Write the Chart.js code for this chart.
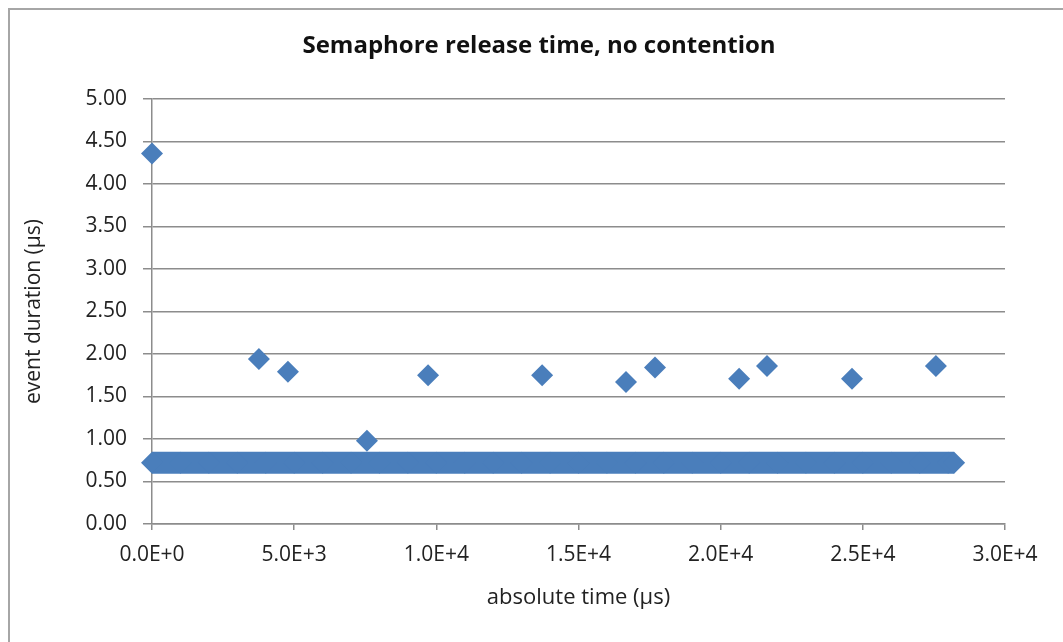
<!DOCTYPE html>
<html>
<head>
<meta charset="utf-8">
<script src="https://cdn.jsdelivr.net/npm/chart.js@4/dist/chart.umd.min.js"></script>
<style>
    html, body { margin: 0; padding: 0; background: #fff; }
    #wrap { width: 1063px; height: 642px; }
</style>
</head>
<body>
<div id="wrap"><canvas id="semChart" width="1063" height="642"></canvas></div>
<script>
// outliers: absolute time (µs) -> event duration (µs)
const outlierTimes = [0, 3760, 4780, 7560, 9710, 13720, 16670, 17690, 20650, 21630, 24620, 27570];
const outlierDurations = [4.36, 1.94, 1.79, 0.98, 1.75, 1.75, 1.67, 1.84, 1.71, 1.86, 1.71, 1.86];

// the dense band of ordinary releases, sampled along its length
const bandTimes = [0, 1000, 2000, 3000, 4000, 5000, 6000, 7000, 8000, 9000, 10000, 11000, 12000, 13000,
    14000, 15000, 16000, 17000, 18000, 19000, 20000, 21000, 22000, 23000, 24000, 25000, 26000, 27000, 28000, 28210];
const bandDurations = [0.72, 0.72, 0.72, 0.72, 0.72, 0.72, 0.72, 0.72, 0.72, 0.72, 0.72, 0.72, 0.72, 0.72,
    0.72, 0.72, 0.72, 0.72, 0.72, 0.72, 0.72, 0.72, 0.72, 0.72, 0.72, 0.72, 0.72, 0.72, 0.72, 0.72];

const xTickLabels = ['0.0E+0', '5.0E+3', '1.0E+4', '1.5E+4', '2.0E+4', '2.5E+4', '3.0E+4'];

const chartTitle = 'Semaphore release time, no contention';
const blue = '#4a7ebb';
const gridGray = '#8c8c8c';
const fontFamily = '"Open Sans", sans-serif';

const toPoints = (xs, ys) => xs.map((x, i) => ({ x: x, y: ys[i] }));

// outer frame and the title, drawn on the canvas
const framePlugin = {
    id: 'frame',
    beforeDraw(chart) {
        const c = chart.ctx;
        c.save();
        c.fillStyle = '#fff';
        c.fillRect(0, 0, chart.width, chart.height);
        c.strokeStyle = '#a6a6a6';
        c.lineWidth = 2;
        c.strokeRect(9, 9, chart.width + 20, chart.height + 20);
        c.restore();
    },
    afterDraw(chart) {
        const c = chart.ctx;
        c.save();
        c.font = 'bold 24px ' + fontFamily;
        c.fillStyle = '#111';
        c.textAlign = 'center';
        c.textBaseline = 'middle';
        c.fillText(chartTitle, 539, 46);
        c.restore();
    }
};

const ctx = document.getElementById('semChart').getContext('2d');

new Chart(ctx, {
    type: 'scatter',
    data: {
        datasets: [{
            label: 'outliers',
            data: toPoints(outlierTimes, outlierDurations),
            pointStyle: 'rectRot',
            pointRadius: 11,
            pointBackgroundColor: blue,
            pointBorderColor: blue,
            pointBorderWidth: 0,
            showLine: false,
            clip: false
        }, {
            label: 'band',
            data: toPoints(bandTimes, bandDurations),
            pointStyle: 'rectRot',
            pointRadius: 11,
            pointBackgroundColor: blue,
            pointBorderColor: blue,
            pointBorderWidth: 0,
            showLine: true,
            borderColor: blue,
            borderWidth: 22,
            borderCapStyle: 'butt',
            clip: false
        }]
    },
    options: {
        responsive: false,
        animation: false,
        layout: { padding: { top: 99, right: 58, bottom: 0, left: 0 } },
        plugins: {
            legend: { display: false },
            tooltip: { enabled: false },
            title: { display: false }
        },
        scales: {
            x: {
                type: 'linear',
                min: 0,
                max: 30000,
                afterFit: (scale) => { scale.height = 118; },
                afterBuildTicks: (scale) => {
                    scale.ticks = xTickLabels.map((_, i) => ({ value: i * 5000 }));
                },
                ticks: {
                    autoSkip: false,
                    maxRotation: 0,
                    padding: 12,
                    color: '#222',
                    font: { family: fontFamily, size: 21 },
                    callback: (value, index) => xTickLabels[index]
                },
                grid: {
                    drawOnChartArea: false,
                    drawTicks: true,
                    tickLength: 6,
                    color: gridGray,
                    lineWidth: 1.5
                },
                border: { display: true, color: gridGray, width: 1.5 },
                title: {
                    display: true,
                    text: 'absolute time (µs)',
                    color: '#222',
                    font: { family: fontFamily, size: 22 },
                    padding: { top: 0, bottom: 31 }
                }
            },
            y: {
                min: 0,
                max: 5,
                afterFit: (scale) => { scale.width = 152; },
                ticks: {
                    stepSize: 0.5,
                    padding: 16,
                    color: '#222',
                    font: { family: fontFamily, size: 21 },
                    callback: (value) => value.toFixed(2)
                },
                grid: {
                    color: gridGray,
                    lineWidth: 1.5,
                    tickLength: 9
                },
                border: { display: true, color: gridGray, width: 1.5 },
                title: {
                    display: true,
                    text: 'event duration (µs)',
                    color: '#222',
                    font: { family: fontFamily, size: 21 },
                    padding: { top: 21, bottom: 0 }
                }
            }
        }
    },
    plugins: [framePlugin]
});
</script>
</body>
</html>
